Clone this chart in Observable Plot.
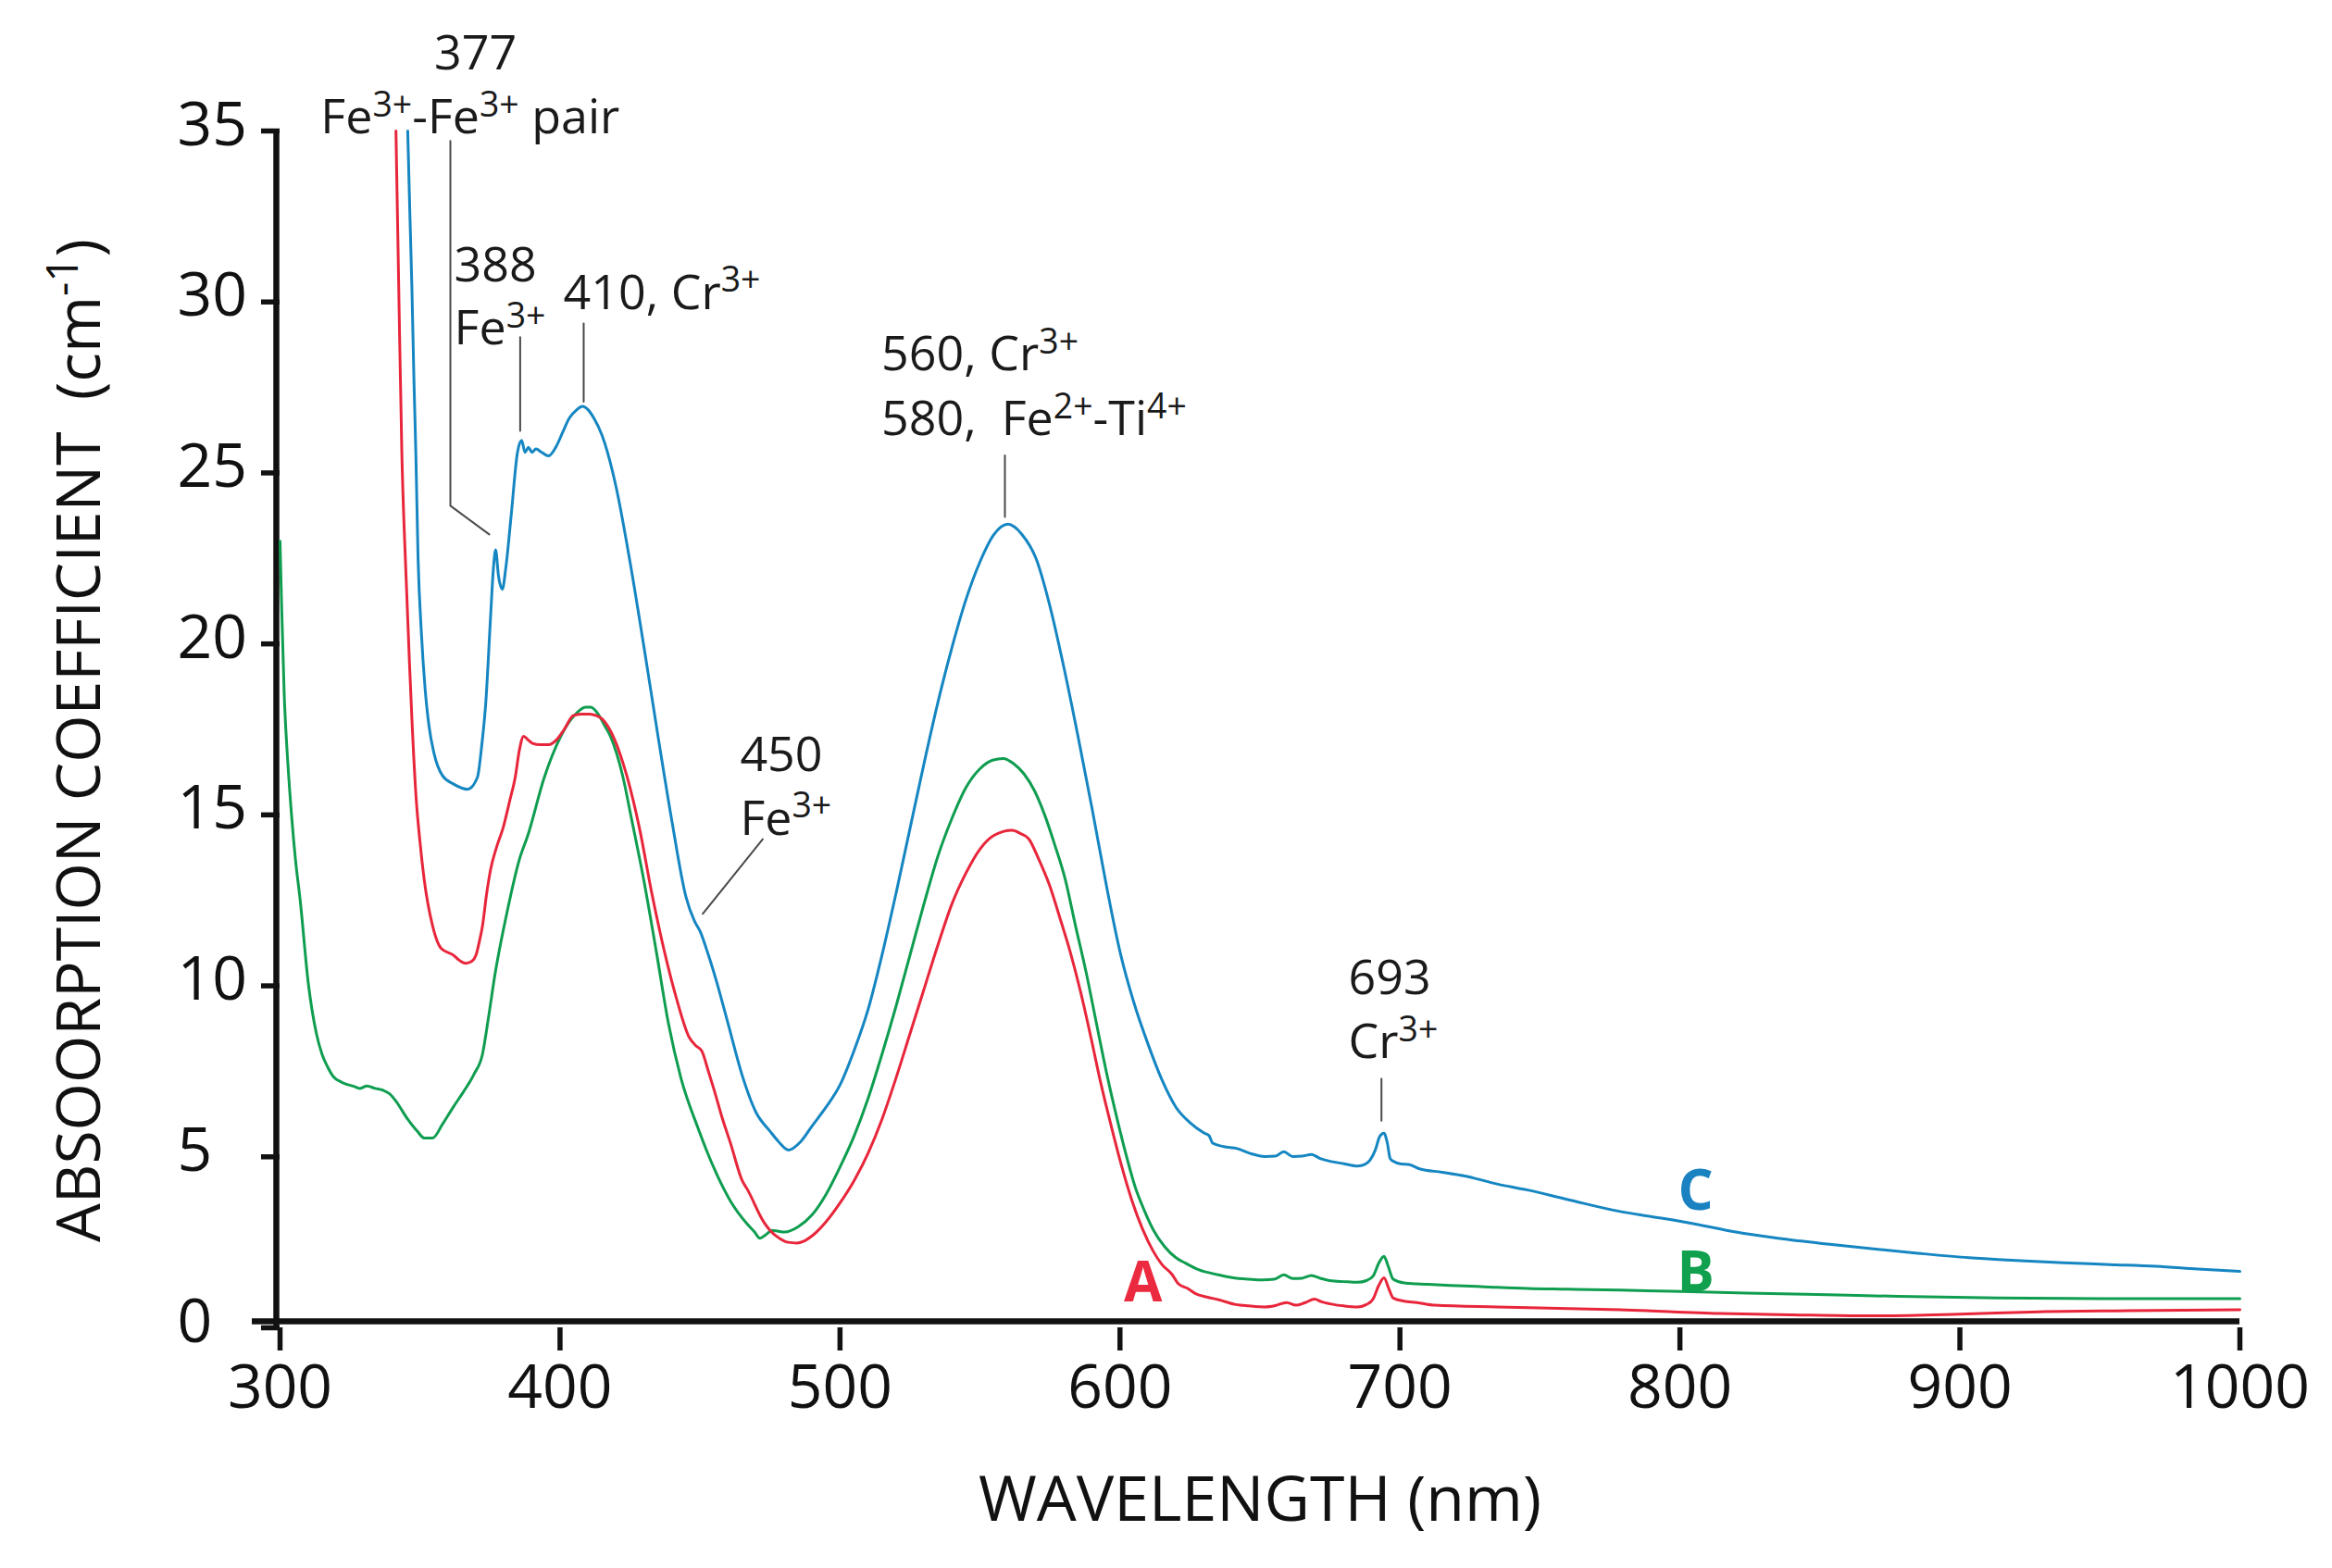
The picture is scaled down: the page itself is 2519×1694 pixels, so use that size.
<!DOCTYPE html>
<html>
<head>
<meta charset="utf-8">
<script src="https://cdn.jsdelivr.net/npm/d3@7"></script>
<script src="https://cdn.jsdelivr.net/npm/@observablehq/plot@0.6"></script>
<style>
  html, body { margin: 0; padding: 0; background: #fff; }
  #chart { width: 2519px; height: 1694px; }
  #chart text { white-space: pre; }
</style>
</head>
<body>
<div id="chart"></div>
<script>
// ---- Data (wavelength nm, absorption coefficient cm-1) ----
const seriesA = [ // red
  [341.4,35.0],[342.4,30.4],[343.5,25.6],[345,22.0],[346.2,19.5],[347.1,17.8],[348.6,15.5],[350,14.2],
  [351.5,13.1],[354.5,11.75],[357.5,11.1],[361.9,10.9],[364,10.75],[366.3,10.66],[368.5,10.72],[370,10.9],
  [371.2,11.3],[372.3,11.75],[373.8,12.7],[375.2,13.4],[377.5,14.1],[379.6,14.6],[382,15.4],[384,16.1],
  [385.5,16.9],[387,17.3],[388.5,17.2],[390,17.1],[393,17.05],[395.9,17.05],[398.8,17.2],[401.5,17.5],
  [404.7,17.9],[407.5,17.95],[410.6,17.95],[413,17.9],[415.1,17.8],[419.5,17.2],[424,16.1],[428.4,14.6],
  [432.8,12.7],[437.3,11.0],[441.7,9.6],[446.1,8.5],[448.5,8.25],[450.6,8.1],[453,7.5],[455.1,6.94],
  [457.7,6.2],[461,5.37],[465.1,4.3],[466.9,4.05],[472.8,3.09],[475,2.85],[478.7,2.6],[481.5,2.5],
  [484.6,2.48],[487.5,2.55],[490.5,2.72],[495,3.1],[500,3.65],[505,4.3],[510,5.1],[515,6.1],
  [520,7.3],[525,8.6],[530,9.9],[535,11.2],[540,12.4],[545,13.3],[550,14.0],[555,14.4],
  [561.5,14.55],[564.5,14.45],[567.4,14.3],[571,13.7],[574.8,12.95],[578.5,12.0],[582.2,11.0],
  [586,9.8],[589.6,8.5],[593.3,7.1],[597,5.86],[600.7,4.7],[604.4,3.69],[608,2.9],[611.8,2.25],
  [615,1.85],[618.7,1.55],[620.7,1.3],[624.2,1.15],[627,1.0],[631,0.9],[635.3,0.82],[641.4,0.68],
  [646,0.64],[651.8,0.61],[655.5,0.65],[659.5,0.74],[662.8,0.66],[666,0.73],[669.5,0.84],[672,0.76],
  [675,0.7],[680,0.64],[684.9,0.61],[688,0.68],[690.4,0.84],[692.5,1.25],[694.3,1.46],[696,1.15],
  [697.6,0.87],[701.5,0.78],[706,0.74],[712.5,0.66],[734.6,0.61],[756.6,0.57],[778.7,0.53],[814,0.42],
  [840,0.38],[867.5,0.35],[900,0.4],[928.4,0.47],[960,0.5],[1000,0.53]
];
const seriesB = [ // green
  [300,23.0],[300.6,21.0],[301.5,18.5],[302.8,16.5],[304.2,14.9],[305.5,13.7],[307.2,12.5],[310.1,10.07],
  [313,8.6],[315,8.0],[316.8,7.66],[319,7.35],[322,7.18],[326.4,7.06],[328.5,7.0],[331,7.07],[334,7.0],
  [336.7,6.95],[339,6.85],[341.2,6.65],[345.6,6.1],[349,5.75],[351.5,5.55],[354.5,5.55],[358,5.95],
  [361.9,6.46],[365.5,6.9],[369.3,7.42],[372.3,8.0],[374.5,9.1],[376.7,10.3],[381.2,12.2],[385.5,13.7],
  [388.5,14.4],[394.4,16.1],[400.3,17.3],[404,17.8],[406.2,18.0],[409.1,18.15],[411,18.15],[413.6,17.95],
  [416,17.6],[418,17.3],[422.5,16.1],[425.5,14.9],[429.9,13.1],[434.4,11.0],[438.8,8.87],[443.2,7.3],
  [449.2,5.86],[455.1,4.65],[461,3.69],[466.9,3.03],[469.5,2.8],[471.4,2.62],[473.5,2.72],[475.8,2.85],
  [478,2.82],[480.2,2.8],[485,2.95],[490,3.3],[495,3.9],[500,4.7],[505,5.6],[510,6.7],[515,8.0],
  [520,9.4],[525,10.9],[530,12.4],[535,13.8],[540,14.9],[545,15.8],[550,16.35],[554.5,16.6],
  [558.3,16.65],[562,16.5],[565.7,16.2],[569.5,15.7],[573.1,15.0],
  [576.8,14.1],[580.5,13.1],[584,11.8],[587.9,10.4],[591.6,8.9],[595.3,7.42],[599,6.1],[602.7,4.9],
  [605.5,4.1],[608.6,3.45],[612,2.85],[616,2.37],[620,2.05],[623.4,1.89],[628,1.7],[635.2,1.55],
  [640,1.47],[646.3,1.42],[651,1.4],[655.1,1.42],[658.5,1.55],[661.7,1.44],[665,1.45],[668.4,1.53],
  [671.5,1.45],[675,1.38],[680,1.35],[684.9,1.33],[688,1.38],[690.4,1.51],[692.5,1.9],[694.3,2.09],
  [695.8,1.8],[697.6,1.42],[701.5,1.31],[710,1.27],[718,1.24],[730,1.2],[745.6,1.15],[760,1.13],
  [778.7,1.1],[811,1.04],[845,0.98],[877.9,0.92],[913.6,0.87],[950,0.85],[1000,0.85]
];
const seriesC = [ // blue
  [345.6,35.0],[346.4,32.5],[347.1,30.4],[347.8,27.8],[348.5,25.6],[349.3,22.5],[350.5,20.3],[351.8,18.7],
  [353.2,17.6],[355,16.8],[358,16.15],[362,15.9],[367,15.75],[370.5,16.1],[372,17.0],[373.5,18.3],
  [375.2,20.8],[376.2,22.2],[377,22.75],[378,22.0],[379.4,21.6],[380.6,22.2],[382.6,23.8],[384.8,25.6],
  [386.3,25.95],[387.5,25.6],[388.7,25.75],[390,25.6],[391.4,25.7],[393.5,25.6],[395.9,25.5],[398.8,25.8],
  [401,26.2],[403.3,26.6],[406,26.85],[408,26.95],[410,26.85],[412.1,26.6],[415,26.1],[420,24.6],
  [425,22.4],[430,19.9],[435,17.3],[440,14.8],[445,12.6],[448,11.9],[450,11.6],[453,10.9],[456,10.1],
  [460,8.9],[465,7.4],[470,6.3],[475,5.75],[478,5.45],[481.6,5.2],[486,5.45],[490,5.9],[495,6.45],
  [500,7.1],[505,8.1],[510,9.3],[515,10.9],[520,12.7],[525,14.6],[530,16.5],[535,18.3],[540,19.9],
  [545,21.3],[550,22.4],[555,23.2],[560,23.5],[565,23.2],[570,22.5],[575,21.1],[580,19.3],[585,17.3],
  [590,15.2],[595,13.0],[600,11.0],[605,9.5],[610,8.3],[615,7.25],[620,6.45],[625,6.0],[630,5.7],
  [631.8,5.62],[633.1,5.4],[637,5.3],[641.9,5.24],[646.5,5.1],
  [651.8,5.01],[655.5,5.02],[658.5,5.15],[661.7,5.01],[665,5.02],[668.4,5.07],[671.5,4.95],[675,4.87],
  [680,4.8],[684.9,4.73],[687.5,4.78],[689.3,4.9],[691.2,5.2],[692.8,5.6],[694.3,5.69],[695.5,5.4],
  [696.5,4.95],[697.6,4.87],[700.4,4.79],[703,4.78],[707,4.65],[715,4.55],[723.6,4.43],[735,4.2],
  [745.6,4.03],[760,3.75],[778.7,3.4],[790,3.25],[805.2,3.04],[820,2.8],[835,2.62],[852.7,2.45],
  [870,2.3],[885,2.18],[903.2,2.05],[920,1.97],[937,1.9],[953.6,1.85],[970,1.8],[985,1.72],[1000,1.65]
];

const xTicks = [300, 400, 500, 600, 700, 800, 900, 1000];
const yTicks = [0, 5, 10, 15, 20, 25, 30, 35];

// Peak annotations (text, anchor wavelength, anchor value)
const notesStart = [
  {text: "Fe^{3+}-Fe^{3+} pair", x: 314.5, y: 34.92},
  {text: "388", x: 362.2, y: 30.59},
  {text: "Fe^{3+}", x: 362.2, y: 28.75},
  {text: "410, Cr^{3+}", x: 401.2, y: 29.8},
  {text: "450", x: 464.3, y: 16.28},
  {text: "Fe^{3+}", x: 464.3, y: 14.41},
  {text: "560, Cr^{3+}", x: 514.8, y: 27.99},
  {text: "580,  Fe^{2+}-Ti^{4+}", x: 514.8, y: 26.1},
  {text: "693", x: 681.6, y: 9.77},
  {text: "Cr^{3+}", x: 681.6, y: 7.88}
];
const notesMiddle = [
  {text: "377", x: 369.8, y: 36.79}
];
// Leader lines from labels to peaks
const leaders = [
  {id: "377", pts: [[360.84, 34.71], [360.84, 24.04], [374.73, 23.2]]},
  {id: "388", pts: [[385.77, 28.97], [385.77, 26.23]]},
  {id: "410", pts: [[408.45, 29.37], [408.45, 27.08]]},
  {id: "450", pts: [[472.4, 14.29], [451.0, 12.11]]},
  {id: "560", pts: [[558.9, 25.51], [558.9, 23.71]]},
  {id: "693", pts: [[693.4, 7.28], [693.4, 6.06]]}
];
const curveLabels = [
  {text: "A", x: 608.2, y: 0.77, color: "#ec2a3f"},
  {text: "B", x: 805.6, y: 1.06, color: "#10a04e"},
  {text: "C", x: 805.6, y: 3.44, color: "#1a82c1"}
];
const colorA = "#e8263b", colorB = "#0f9d50", colorC = "#1586c2";

const toRows = s => s.map(([nm, v]) => ({nm, v}));
const leaderRows = leaders.flatMap(l => l.pts.map(([x, y]) => ({id: l.id, x, y})));

const plot = Plot.plot({
  width: 2519,
  height: 1694,
  marginLeft: 302,
  marginRight: 100,
  marginTop: 141,
  marginBottom: 260,
  style: {fontFamily: "'Open Sans', 'DejaVu Sans', sans-serif", background: "#fff", color: "#111", overflow: "visible"},
  x: {domain: [300, 1000]},
  y: {domain: [0, 35]},
  marks: [
    Plot.axisX({ticks: xTicks, tickSize: 25, tickPadding: 15, fontSize: 66, strokeWidth: 5.5, label: null, tickFormat: d => String(d)}),
    // y tick marks
    Plot.axisY({ticks: yTicks, tickSize: 20, strokeWidth: 5.5, label: null, tickFormat: () => ""}),
    // y tick labels (left-aligned as in the reference)
    Plot.axisY({ticks: yTicks, tickSize: 0, tickPadding: 111, textAnchor: "start", dy: -6, fontSize: 66, label: null, tickFormat: d => String(d)}),
    Plot.ruleY([0], {x1: 300, x2: 1000, stroke: "#111", strokeWidth: 6.5, dy: -7, insetLeft: -30}),
    Plot.ruleX([300], {y1: 0, y2: 35, stroke: "#111", strokeWidth: 6.5, dx: -4}),
    Plot.line(leaderRows, {x: "x", y: "y", z: "id", stroke: "#4a4a4a", strokeWidth: 2}),
    Plot.line(toRows(seriesB), {x: "nm", y: "v", stroke: colorB, strokeWidth: 3, curve: "monotone-x"}),
    Plot.line(toRows(seriesA), {x: "nm", y: "v", stroke: colorA, strokeWidth: 3, curve: "monotone-x"}),
    Plot.line(toRows(seriesC), {x: "nm", y: "v", stroke: colorC, strokeWidth: 3, curve: "monotone-x"}),
    Plot.text(notesStart, {x: "x", y: "y", text: "text", textAnchor: "start", lineAnchor: "bottom", fontSize: 52, fill: "#1a1a1a"}),
    Plot.text(notesMiddle, {x: "x", y: "y", text: "text", textAnchor: "middle", lineAnchor: "bottom", fontSize: 52, fill: "#1a1a1a"}),
    ...curveLabels.map(c => Plot.text([c], {x: "x", y: "y", text: "text", textAnchor: "middle", lineAnchor: "bottom", fontSize: 60, fontWeight: "bold", fill: c.color})),
    Plot.text(["WAVELENGTH (nm)"], {frameAnchor: "bottom", dy: 208, textAnchor: "middle", lineAnchor: "bottom", fontSize: 68, fill: "#111"}),
    Plot.text(["ABSOORPTION COEFFICIENT  (cm^{-1})"], {frameAnchor: "left", dx: -195, dy: 12, rotate: -90, textAnchor: "middle", lineAnchor: "bottom", fontSize: 66, fill: "#111"})
  ]
});

document.getElementById("chart").appendChild(plot);

// Render ^{...} as superscripts
d3.select(plot).selectAll("text").each(function () {
  const t = this.textContent;
  if (!t.includes("^{")) return;
  const fs = parseFloat(getComputedStyle(this).fontSize) || 52;
  const parts = t.split(/\^\{([^}]*)\}/);
  this.textContent = "";
  const sel = d3.select(this);
  let raised = false;
  parts.forEach((p, i) => {
    if (p === "") return;
    const sup = i % 2 === 1;
    const ts = sel.append("tspan").text(p);
    if (sup) {
      ts.attr("font-size", (fs * 0.72).toFixed(1));
      if (!raised) { ts.attr("dy", (-fs * 0.36).toFixed(1)); raised = true; }
    } else if (raised) {
      ts.attr("dy", (fs * 0.36).toFixed(1));
      raised = false;
    }
  });
});
</script>
</body>
</html>
